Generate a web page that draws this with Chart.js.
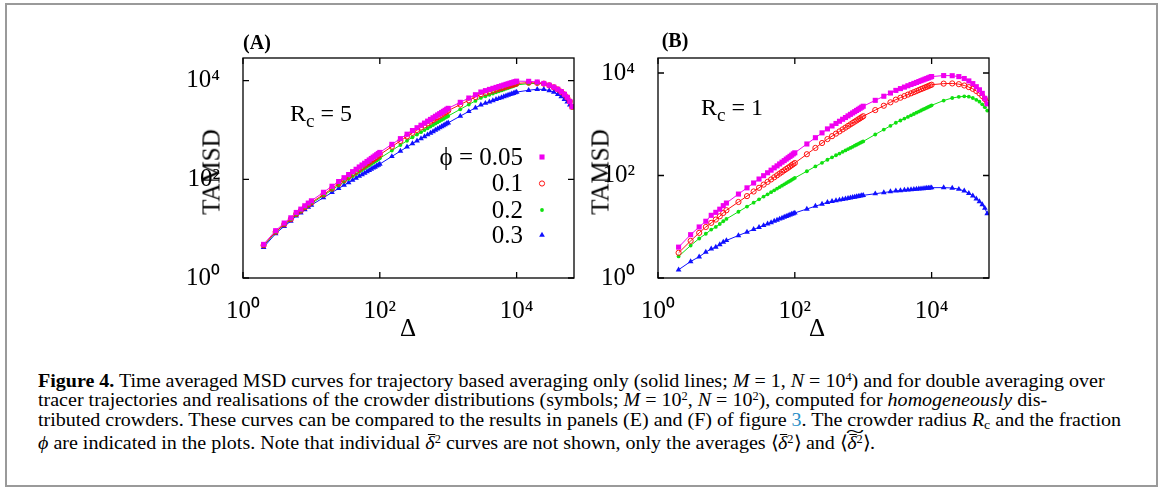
<!DOCTYPE html>
<html><head><meta charset="utf-8">
<script src="https://cdn.jsdelivr.net/npm/chart.js@4.4.1/dist/chart.umd.min.js"></script>
<style>
html,body{margin:0;padding:0;background:#fff;}
body{width:1166px;height:493px;position:relative;overflow:hidden;font-family:'Liberation Serif','Times New Roman',serif;color:#000;}
#frame{position:absolute;left:5px;top:3px;width:1153px;height:484px;border:2px solid #9a9a9a;box-sizing:border-box;}
canvas{position:absolute;}
.lbl{position:absolute;white-space:nowrap;line-height:1;font-size:25px;}
.ctr{transform:translate(-50%,-50%);}
.rot{transform:translate(-50%,-50%) rotate(-90deg);}
.cap{position:absolute;left:38px;white-space:nowrap;font-size:19px;line-height:1;transform-origin:0 50%;}
.cap sup{font-size:0.62em;vertical-align:0.5em;line-height:0;}
.cap sub{font-size:0.7em;vertical-align:-0.25em;line-height:0;}
.ol{position:relative;display:inline-block;line-height:1;}
.ol::before{content:'';position:absolute;left:0.12em;right:-0.02em;top:0.04em;border-top:1.2px solid #000;}
.wt{position:relative;display:inline-block;line-height:1;}
.wt .tl{position:absolute;left:0;right:0;top:-0.56em;text-align:center;font-size:1em;transform:scaleX(1.7);}
</style>
</head><body>
<div id="frame"></div>
<canvas id="cA" width="450" height="320" style="left:150px;top:20px;"></canvas>
<canvas id="cB" width="450" height="320" style="left:565px;top:20px;"></canvas>

<div class="lbl ctr" style="left:257px;top:42px;font-size:20px;font-weight:bold;">(A)</div>
<div class="lbl ctr" style="left:675px;top:40px;font-size:20px;font-weight:bold;">(B)</div>
<div class="lbl" style="left:290px;top:101px;font-size:24px;">R<span style="font-size:0.8em;position:relative;top:0.3em;">c</span> = 5</div>
<div class="lbl" style="left:701px;top:95px;font-size:24px;">R<span style="font-size:0.8em;position:relative;top:0.3em;">c</span> = 1</div>
<div class="lbl rot" style="left:211px;top:172px;">TAMSD</div>
<div class="lbl rot" style="left:600px;top:172px;">TAMSD</div>
<div class="lbl ctr" style="left:408px;top:327px;">Δ</div>
<div class="lbl ctr" style="left:817px;top:327px;">Δ</div>

<div class="cap" id="l1" style="top:371px;"><b>Figure 4.</b> Time averaged MSD curves for trajectory based averaging only (solid lines; <i>M</i> = 1, <i>N</i> = 10<sup>4</sup>) and for double averaging over</div>
<div class="cap" id="l2" style="top:390px;">tracer trajectories and realisations of the crowder distributions (symbols; <i>M</i> = 10<sup>2</sup>, <i>N</i> = 10<sup>2</sup>), computed for <i>homogeneously</i> dis-</div>
<div class="cap" id="l3" style="top:410px;">tributed crowders. These curves can be compared to the results in panels (E) and (F) of figure <span style="color:#2a8fc8">3</span>. The crowder radius <i>R</i><sub>c</sub> and the fraction</div>
<div class="cap" id="l4" style="top:433px;"><i>ϕ</i> are indicated in the plots. Note that individual <span class="ol"><i>δ</i></span><sup>2</sup> curves are not shown, only the averages ⟨<span class="ol"><i>δ</i></span><sup>2</sup>⟩ and <span class="wt">⟨<span class="ol"><i>δ</i></span><sup>2</sup>⟩<span class="tl">~</span></span>.</div>

<script>
// ---------- data ----------
const deltas = [2,3,4,5,6,7,8,9,10,
  15,20,25,30,35,40,45,50,55,60,65,70,75,80,85,90,95,100,
  150,200,250,300,350,400,450,500,550,600,650,700,750,800,850,900,950,1000,
  1500,2000,2500,3000,3500,4000,4500,5000,5500,6000,6500,7000,7500,8000,8500,9000,9500,10000,
  15000,20000,25000,30000,35000,40000,45000,50000,55000,60000,65000];

// Panel (A): Rc = 5
const rc5Phi005 = [4.8,9.1,13.0,16.6,21.3,24.9,29.1,33.0,36.7,
  54.6,72.4,90.2,108,125,143,160,178,195,212,230,247,265,282,299,316,334,351,
  512,668,822,975,1113,1250,1381,1513,1641,1770,1897,2020,2143,2265,2386,2506,2630,2748,
  3640,4446,5188,5888,6281,6653,6982,7300,7590,7870,8147,8414,8650,8892,9120,9333,9550,9772,
  9700,9400,8800,8100,7400,6700,6000,5300,4600,3800,3000];
const rc5Phi01 = [4.6,8.6,12.2,15.6,19.8,23.2,27.0,30.6,34.0,
  49.1,65.2,81.2,97.2,113,129,144,160,176,191,207,222,239,254,269,284,301,316,
  461,601,740,878,1002,1125,1243,1362,1477,1593,1707,1818,1929,2039,2147,2255,2367,2473,
  3280,4000,4670,5300,5650,5990,6280,6570,6830,7080,7330,7570,7790,8000,8210,8400,8600,8800,
  9100,9000,8700,8050,7350,6650,5950,5250,4550,3800,2950];
const rc5Phi02 = [4.5,8.4,12.0,15.2,19.4,22.4,26.0,29.4,32.3,
  46.9,61.1,75.0,88.9,102,116,128,142,154,167,180,192,205,218,230,242,255,267,
  383,496,605,713,809,905,996,1086,1175,1262,1349,1432,1516,1599,1680,1762,1844,1924,
  2628,3281,3891,4475,4836,5183,5495,5796,6072,6343,6607,6866,7102,7336,7560,7774,7993,8208,
  8700,8800,8550,7950,7250,6550,5850,5150,4450,3750,2950];
const rc5Phi03 = [4.2,7.9,11.2,14.2,18.1,20.9,24.3,27.4,30.1,
  42.5,54.2,65.3,76.2,86.1,96.7,106,116,125,134,144,152,162,170,178,187,195,204,
  291,373,454,533,603,673,737,803,866,931,992,1052,1112,1171,1229,1286,1347,1401,
  1911,2379,2817,3238,3492,3739,3959,4168,4364,4557,4742,4922,5086,5255,5408,5562,5711,5863,
  6400,6700,6650,6300,5850,5300,4750,4200,3700,3250,2850];

// Panel (B): Rc = 1
const rc1Phi005 = [4.0,7.0,9.9,12.8,16.7,19.1,22.0,25.8,29.0,
  43.4,57.4,71.4,85.3,99.1,113,127,141,154,168,182,195,209,222,236,249,264,277,
  412,546,679,811,925,1035,1143,1250,1352,1456,1560,1660,1758,1858,1954,2051,2148,2244,
  2924,3516,4064,4571,4955,5303,5636,5957,6252,6531,6808,7079,7328,7586,7816,8054,8299,8511,
  8900,8850,8500,7800,7000,6200,5400,4700,4000,3200,2500];
const rc1Phi01 = [3.1,5.3,7.6,9.9,11.9,13.8,16.0,18.6,21.0,
  30.4,39.6,48.7,57.5,66.4,75.1,83.7,92.3,100.7,109,117.5,126,134,142,150,159,167,175,
  260,345,430,513,585,656,725,793,859,927,993,1057,1122,1183,1247,1309,1371,1432,
  1888,2296,2673,3020,3290,3545,3784,4009,4227,4436,4645,4842,5024,5212,5383,5559,5741,5902,
  6200,6250,6050,5700,5300,4900,4450,4000,3550,3100,2650];
const rc1Phi02 = [2.64,4.3,5.9,7.3,8.8,9.9,11.3,12.8,14.2,
  19.6,24.7,29.5,34.2,38.7,43.0,47.2,51.4,55.5,59.4,63.4,67.3,71.1,74.8,78.5,82.2,86.0,89.5,
  121,150,177,203,226,248,268,289,308,327,345,363,381,398,415,431,448,463,
  631,785,930,1069,1183,1289,1391,1490,1585,1679,1767,1854,1941,2023,2104,2183,2265,2339,
  2900,3250,3420,3500,3450,3250,3000,2750,2450,2150,1850];
const rc1Phi03 = [1.45,2.1,2.6,3.2,3.7,4.0,4.5,5.0,5.4,
  6.75,7.87,8.87,9.78,10.6,11.4,12.1,12.9,13.5,14.2,14.8,15.4,16.0,16.5,17.1,17.6,18.1,18.6,
  22.2,25.2,27.7,30.0,31.2,32.4,33.3,34.3,35.1,35.9,36.6,37.4,38.0,38.7,39.3,39.9,40.5,41.0,
  44.1,46.5,48.4,50.0,50.9,51.8,52.5,53.2,53.8,54.3,54.8,55.3,55.8,56.2,56.6,57.0,57.4,57.8,
  58,57,54,50,45,40,35,31,27,23,18];

const legendLabels = ['ϕ = 0.05', '0.1', '0.2', '0.3'];
const tickValues = [1, 100, 10000];
const tickLabels = ['10⁰', '10²', '10⁴'];

// ---------- styles ----------
const styles = [
  {color:'#f000f0', pointStyle:'rect', radius:3.6, fill:'#f000f0', bw:0},
  {color:'#ff1010', pointStyle:'circle', radius:2.6, fill:'rgba(0,0,0,0)', bw:1},
  {color:'#10e010', pointStyle:'circle', radius:1.9, fill:'#10e010', bw:0},
  {color:'#1010ff', pointStyle:'triangle', radius:3.3, fill:'#1010ff', bw:0}
];

Chart.defaults.font.family = "'Liberation Serif','Times New Roman',serif";
Chart.defaults.color = '#000';

const FONT = "'Liberation Serif','Times New Roman',serif";

function drawMarker(ctx, st, x, y){
  ctx.save();
  ctx.fillStyle = st.fill; ctx.strokeStyle = st.color; ctx.lineWidth = st.bw || 1;
  if (Chart.helpers && Chart.helpers.drawPoint){
    Chart.helpers.drawPoint(ctx, {pointStyle: st.pointStyle, radius: st.radius, borderWidth: st.bw, rotation: 0}, x, y);
  }
  ctx.restore();
}

const frameTicks = {
  id: 'frameTicks',
  afterDraw(chart){
    const {ctx, chartArea: a, scales: {x, y}} = chart;
    ctx.save();
    ctx.strokeStyle = '#000'; ctx.lineWidth = 1.3;
    ctx.strokeRect(a.left, a.top, a.right - a.left, a.bottom - a.top);
    const L = 6;
    ctx.beginPath();
    x.ticks.forEach(t => {
      const px = x.getPixelForValue(t.value);
      ctx.moveTo(px, a.bottom); ctx.lineTo(px, a.bottom - L);
      ctx.moveTo(px, a.top); ctx.lineTo(px, a.top + L);
    });
    y.ticks.forEach(t => {
      const py = y.getPixelForValue(t.value);
      ctx.moveTo(a.left, py); ctx.lineTo(a.left + L, py);
      ctx.moveTo(a.right, py); ctx.lineTo(a.right - L, py);
    });
    ctx.stroke();
    ctx.restore();
  }
};

const phiLegend = {
  id: 'phiLegend',
  afterDraw(chart){
    const ctx = chart.ctx;
    const rows = [137, 163.5, 190, 215];
    ctx.save();
    ctx.font = '25px ' + FONT;
    ctx.textAlign = 'right'; ctx.textBaseline = 'middle'; ctx.fillStyle = '#000';
    legendLabels.forEach((t, i) => {
      ctx.fillText(t, 373, rows[i] + 1);
      drawMarker(ctx, styles[i], 392, rows[i]);
    });
    ctx.restore();
  }
};

function makeChart(id, seriesList, yMax, extraPlugins){
  const datasets = seriesList.map((vals, i) => {
    const st = styles[i];
    return {
      data: deltas.map((d, k) => ({x: d, y: vals[k]})),
      borderColor: st.color, backgroundColor: st.fill, borderWidth: 1,
      pointStyle: st.pointStyle, pointRadius: st.radius, pointBorderWidth: st.bw,
      pointBackgroundColor: st.fill, pointBorderColor: st.color,
      showLine: true, tension: 0, fill: false, order: i
    };
  });
  return new Chart(document.getElementById(id), {
    type: 'line',
    data: {datasets},
    plugins: [frameTicks].concat(extraPlugins || []),
    options: {
      responsive: false, animation: false, devicePixelRatio: 1,
      layout: {padding: {top: 38, right: 26, bottom: 22, left: 0}},
      plugins: {legend: {display: false}, tooltip: {enabled: false}},
      scales: {
        x: {
          type: 'logarithmic', min: 1, max: 69000,
          afterBuildTicks: s => { s.ticks = tickValues.map(v => ({value: v})); },
          afterFit: s => { s.height = 40; },
          grid: {display: false}, border: {display: false},
          ticks: {autoSkip: false, maxRotation: 0, padding: 10, color: '#000',
                  font: {size: 25, family: FONT}, callback: (v, i) => tickLabels[i]}
        },
        y: {
          type: 'logarithmic', min: 1, max: yMax,
          afterBuildTicks: s => { s.ticks = tickValues.map(v => ({value: v})); },
          afterFit: s => { s.width = 93; },
          grid: {display: false}, border: {display: false},
          ticks: {autoSkip: false, padding: 15, color: '#000',
                  font: {size: 25, family: FONT}, callback: (v, i) => tickLabels[i]}
        }
      }
    }
  });
}

function build(){
  makeChart('cA', [rc5Phi005, rc5Phi01, rc5Phi02, rc5Phi03], 28800, [phiLegend]);
  makeChart('cB', [rc1Phi005, rc1Phi01, rc1Phi02, rc1Phi03], 19600, []);
  // caption width fitting (condensed serif)
  const l3 = document.getElementById('l3');
  const w = l3.getBoundingClientRect().width;
  const sc = 1083 / w;
  ['l1','l2','l3','l4'].forEach(id => {
    document.getElementById(id).style.transform = 'scaleX(' + sc.toFixed(4) + ')';
  });
}
if (document.fonts && document.fonts.ready) { document.fonts.ready.then(build); } else { build(); }
</script>
</body></html>
